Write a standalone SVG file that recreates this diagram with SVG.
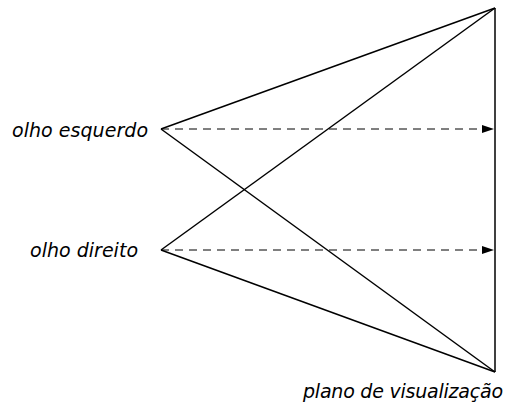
<svg xmlns="http://www.w3.org/2000/svg" width="506" height="409" viewBox="0 0 506 409">
<style>
.ln{stroke:#000;stroke-width:1.5;fill:none}
.ds{stroke:#000;stroke-width:1;fill:none;stroke-dasharray:8,6}
.lb{font-family:"DejaVu Sans",Verdana,sans-serif;font-style:italic;font-size:19px;fill:#000}
</style>
<defs>
<marker id="ah" markerWidth="12" markerHeight="8" refX="12" refY="4" orient="auto" markerUnits="userSpaceOnUse">
<path d="M0,0 L12,4 L0,8 Z" fill="#000"/>
</marker>
</defs>
<g id="connectors">
<line class="ln" x1="495" y1="8" x2="495" y2="372"/>
<line class="ln" x1="161" y1="129" x2="495" y2="8"/>
<line class="ln" x1="161" y1="129" x2="495" y2="372"/>
<line class="ln" x1="161" y1="250" x2="495" y2="8"/>
<line class="ln" x1="161" y1="250" x2="495" y2="372"/>
<line class="ds" x1="161" y1="129" x2="494" y2="129" marker-end="url(#ah)"/>
<line class="ds" x1="161" y1="250" x2="494" y2="250" marker-end="url(#ah)"/>
</g>
<g id="olho-esquerdo"><text class="lb" x="12" y="137" textLength="136">olho esquerdo</text></g>
<g id="olho-direito"><text class="lb" x="30" y="257" textLength="108">olho direito</text></g>
<g id="plano"><text class="lb" x="303" y="398" textLength="200">plano de visualização</text></g>
</svg>
